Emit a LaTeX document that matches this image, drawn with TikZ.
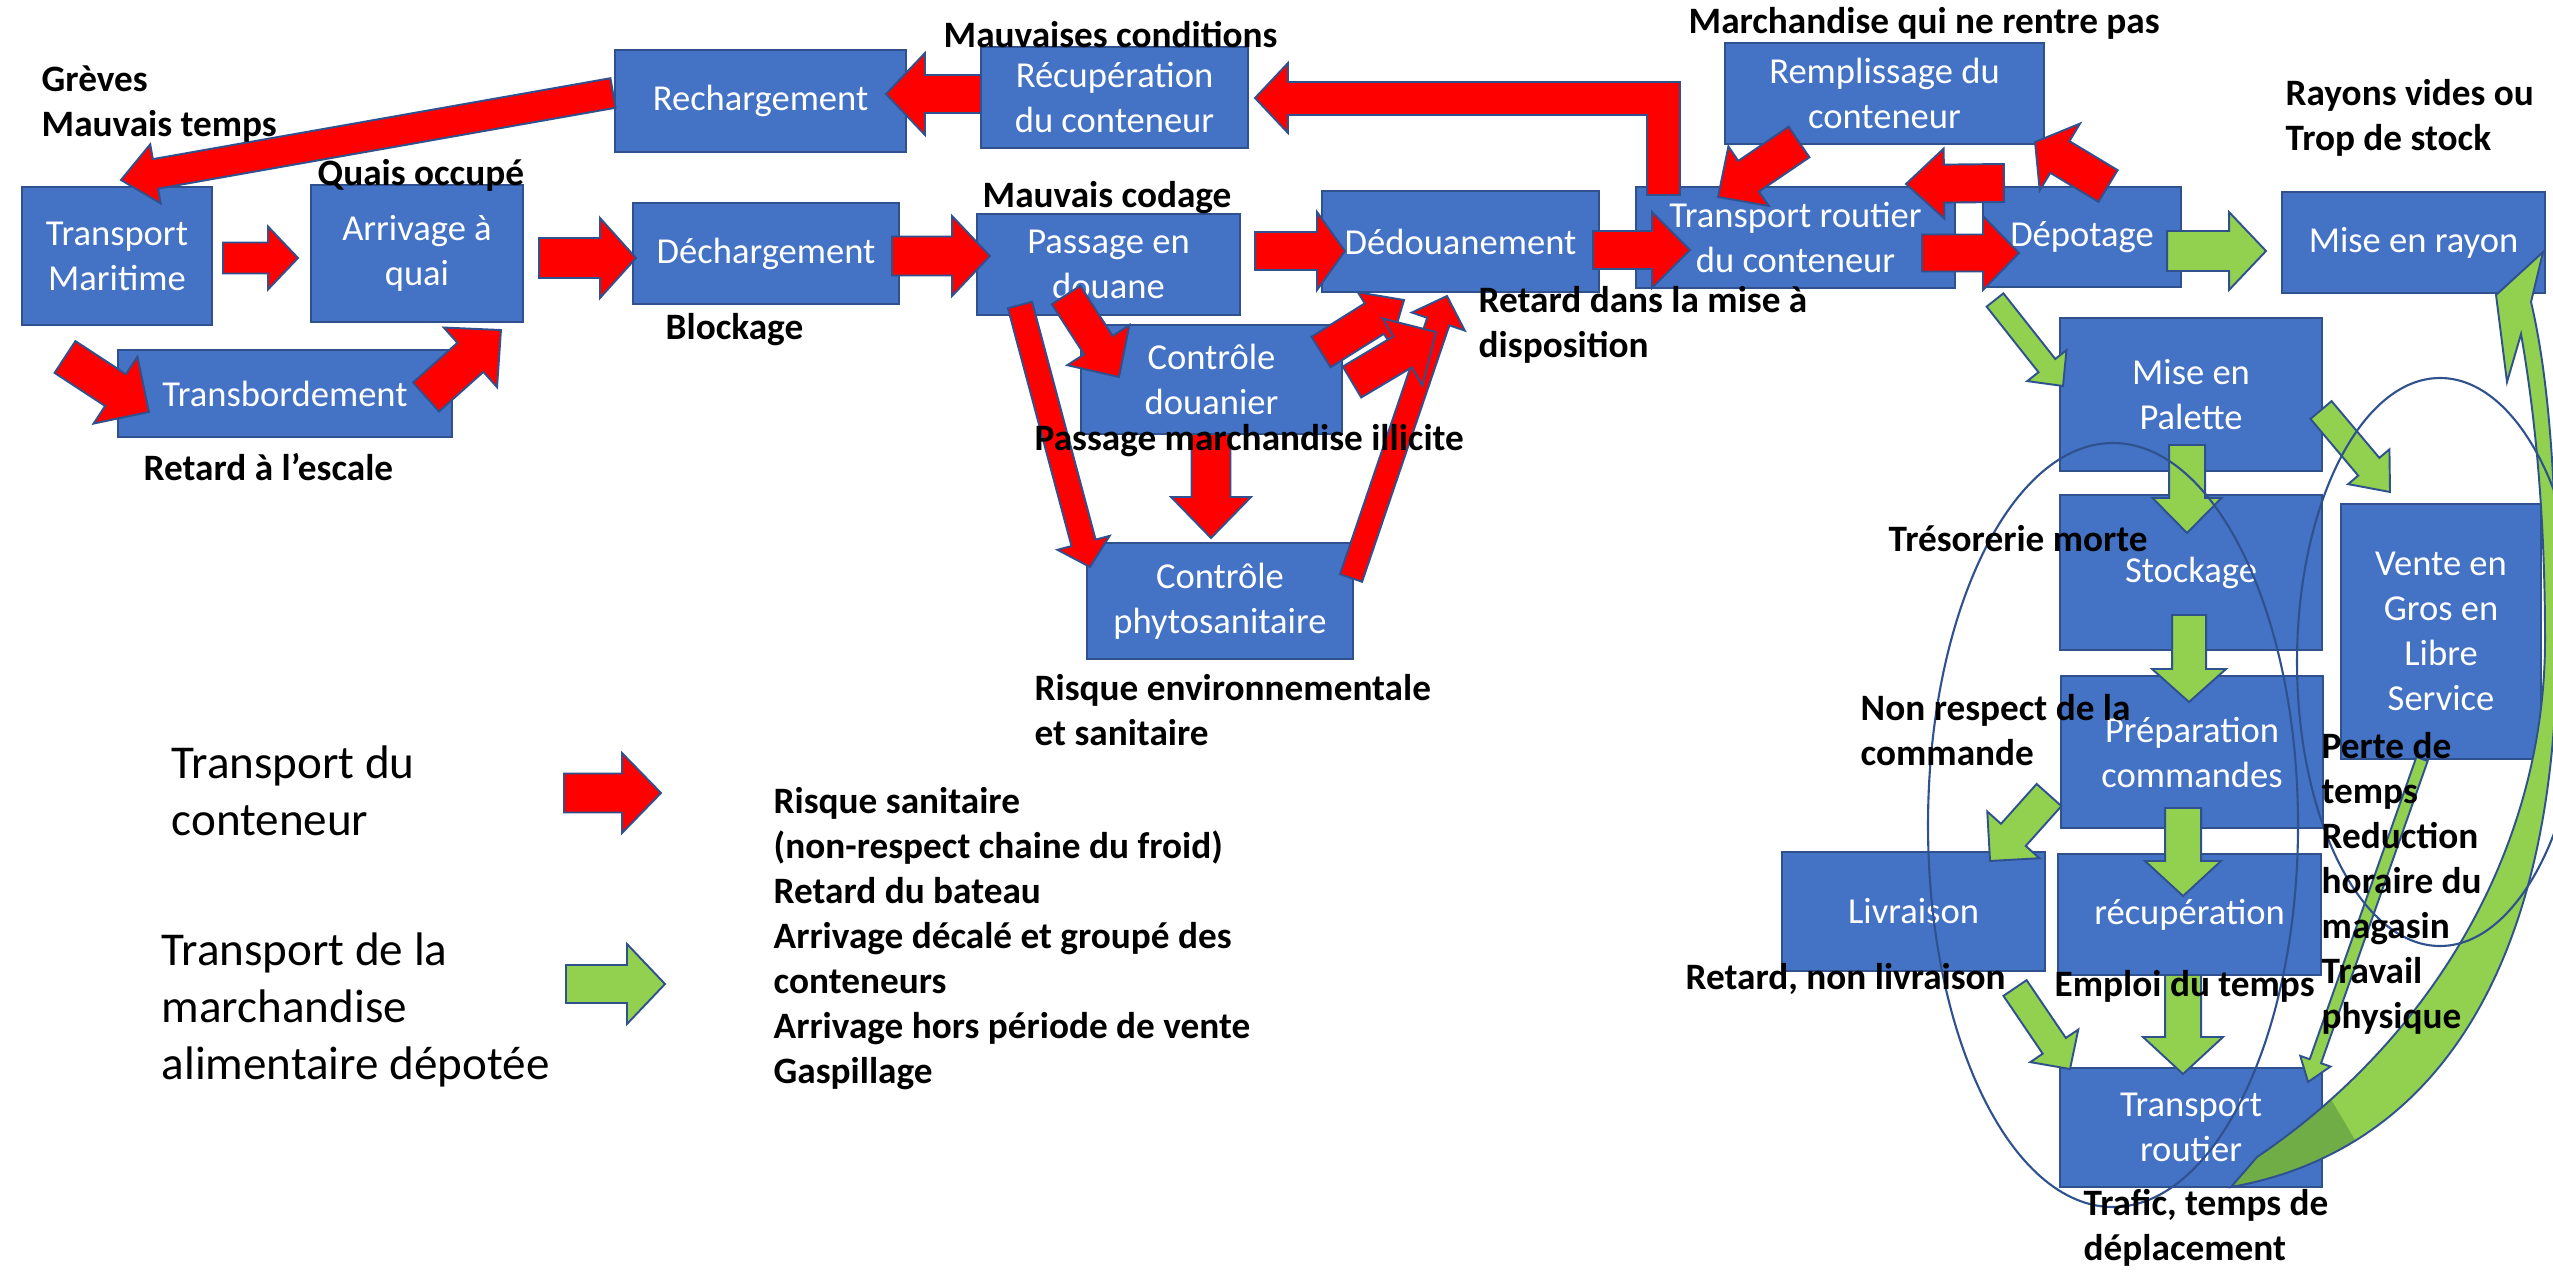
\documentclass[tikz,border=0pt]{standalone}
\usepackage{fontspec}
\setmainfont{Carlito}
\definecolor{boxblue}{HTML}{4472C4}
\definecolor{bord}{HTML}{2F528F}
\definecolor{rouge}{HTML}{FF0000}
\definecolor{vert}{HTML}{92D050}
\definecolor{vertf}{HTML}{70AD47}
\newcommand\boxfont{\fontsize{10.4pt}{12.8pt}\selectfont}
\newcommand\labfont{\bfseries\fontsize{10.6pt}{12.8pt}\selectfont}
\newcommand\legfont{\fontsize{13.4pt}{16.2pt}\selectfont}
\tikzset{
 box/.style={draw=bord, fill=boxblue, line width=0.8pt, text=white, font=\boxfont, align=center, inner sep=0pt},
 lab/.style={font=\labfont, align=left, anchor=west, inner sep=0pt, text=black},
 leg/.style={font=\legfont, align=left, anchor=west, inner sep=0pt, text=black},
 barrow/.style={draw=bord, line width=0.55pt, line join=miter},
 ring/.style={draw=bord, line width=0.6pt},
}
% box: name, x1, y1, x2, y2, text
\newcommand\boxn[6]{%
 \pgfmathsetmacro\bw{(#4-#2)*0.1}\pgfmathsetmacro\bh{(#5-#3)*0.1}%
 \node[box,minimum width=\bw mm,minimum height=\bh mm] (#1) at ({(#2+#4)/2},{(#3+#5)/2}) {#6};}
% block arrow: x1,y1,x2,y2, shaft half, head half, head length, colour
\newcommand\barr[8]{%
 \pgfmathsetmacro\bAng{atan2(-((#4)-(#2)),(#3)-(#1))}%
 \pgfmathsetmacro\bLen{veclen((#3)-(#1),(#4)-(#2))}%
 \pgfmathsetmacro\bBase{\bLen-(#7)}%
 \filldraw[barrow,fill=#8,shift={(#1,#2)},rotate=\bAng] (0,-#5) -- (\bBase,-#5) -- (\bBase,-#6) -- (\bLen,0) -- (\bBase,#6) -- (\bBase,#5) -- (0,#5) -- cycle;}
\newcommand\curvedpath{(2231,1187) .. controls (2440,1150) and (2557,960) .. (2557,640) .. controls (2557,470) and (2547,370) .. (2531,302) -- (2543,252) -- (2496,295) -- (2507,382) -- (2521,334) .. controls (2536,420) and (2545,520) .. (2545,640) .. controls (2545,850) and (2430,1040) .. (2257,1157) -- cycle}
\begin{document}
\begin{tikzpicture}[x=0.1mm,y=-0.1mm]
\useasboundingbox (0,0) rectangle (2553,1272);
\fill[white] (0,0) rectangle (2553,1272);
\clip (0,0) rectangle (2553,1272);
% boxes
\boxn{tm}{22}{187}{212}{325}{Transport\\Maritime}
\boxn{aq}{311}{185}{523}{322}{Arrivage à\\quai}
\boxn{tb}{118}{350}{452}{437}{Transbordement}
\boxn{rch}{615}{50}{906}{152}{Rechargement}
\boxn{dch}{633}{203}{899}{304}{Déchargement}
\boxn{rec}{981}{47}{1248}{148}{Récupération\\du conteneur}
\boxn{pd}{977}{214}{1240}{315}{Passage en\\douane}
\boxn{ded}{1322}{191}{1599}{292}{Dédouanement}
\boxn{trc}{1636}{187}{1955}{288}{Transport routier\\du conteneur}
\boxn{rem}{1725}{43}{2044}{144}{Remplissage du\\conteneur}
\boxn{dep}{1983}{187}{2181}{287}{Dépotage}
\boxn{mer}{2282}{192}{2545}{293}{Mise en rayon}
\boxn{cd}{1081}{325}{1342}{434}{Contrôle\\douanier}
\boxn{cp}{1087}{543}{1353}{659}{Contrôle\\phytosanitaire}
\boxn{mep}{2060}{318}{2322}{471}{Mise en\\Palette}
\boxn{sto}{2060}{495}{2322}{650}{Stockage}
\boxn{vgl}{2341}{504}{2541}{759}{Vente en\\Gros en\\Libre\\Service}
\boxn{pc}{2061}{676}{2323}{828}{Préparation\\commandes}
\boxn{liv}{1782}{852}{2045}{971}{Livraison}
\boxn{recu}{2058}{854}{2321}{975}{récupération}
\boxn{tr}{2060}{1068}{2322}{1187}{Transport\\routier}
% bent red arrow: transport routier -> recuperation
\filldraw[barrow,fill=rouge] (1647,195) -- (1647,115) -- (1288,115) -- (1288,133) -- (1255,98) -- (1288,63) -- (1288,82) -- (1680,82) -- (1680,195) -- cycle;
% red block arrows
\barr{613}{93}{121}{180}{15}{30}{35}{rouge}
\barr{981}{94}{886}{94}{19}{41}{39}{rouge}
\barr{223}{258}{298}{258}{15.5}{31.5}{30}{rouge}
\barr{539}{258}{636}{258}{20}{40}{36}{rouge}
\barr{892}{256}{990}{256}{19.5}{40}{38}{rouge}
\barr{65}{357}{149}{412}{19}{40}{40}{rouge}
\barr{426}{397}{501}{330}{19.5}{40}{41}{rouge}
\barr{1255}{251}{1345}{251}{19}{39}{28}{rouge}
\barr{1593}{250}{1690}{250}{19}{38}{38}{rouge}
\barr{1922}{253}{2019}{253}{18.5}{37}{36}{rouge}
\barr{2108}{186}{2035}{142}{18.5}{39}{29}{rouge}
\barr{2004}{183}{1906}{184}{19}{35}{38}{rouge}
\barr{1799}{142}{1718}{197}{18.5}{36}{37}{rouge}
\barr{1066}{295}{1119}{377}{17}{37}{38}{rouge}
\barr{1020}{305}{1090}{567}{12.5}{27}{25}{rouge}
\barr{1211}{434}{1211}{538}{19.5}{40}{41}{rouge}
\barr{1351}{578}{1447}{296}{11.7}{28}{27}{rouge}
\barr{1321}{352}{1404}{300}{18}{31}{35}{rouge}
\barr{1352}{382}{1436}{332}{18}{39}{39}{rouge}
% green block arrows
\barr{2167}{251}{2266}{251}{20}{39}{37}{vert}
\barr{1995}{300}{2063}{386}{10.7}{25}{26}{vert}
\barr{2321}{410}{2390}{492}{13.8}{27}{33}{vert}
\barr{2187}{445}{2187}{533}{18}{34.5}{35}{vert}
\barr{2189}{615}{2189}{702}{17}{37}{33}{vert}
\barr{2183}{808}{2183}{896}{18}{38}{35}{vert}
\barr{2049}{795}{1990}{861}{16.6}{35}{35}{vert}
\barr{2015}{988}{2070}{1069}{14}{29}{28}{vert}
\barr{2183}{975}{2183}{1074}{18}{40}{37}{vert}
\barr{2422}{759}{2308}{1082}{6}{16}{22}{vert}
% curved green arrow to Mise en rayon
\fill[vert] \curvedpath;
\begin{scope}
\clip (2150,1250) -- (2150,1000) -- (2290,1030) -- (2420,1250) -- cycle;
\fill[vertf] \curvedpath;
\end{scope}
\draw[barrow] \curvedpath;
% legend arrows
\barr{564}{793}{661}{793}{19.5}{40}{39}{rouge}
\barr{566}{984}{665}{984}{19}{40}{38}{vert}
% ellipses
\draw[ring] (2113,825) ellipse [x radius=185, y radius=382];
\draw[ring] (2440,662) ellipse [x radius=143, y radius=284];
% labels
\node[lab] (l1) at (41,104) {Grèves\\Mauvais temps};
\node[lab] (l2) at (317,175) {Quais occupé};
\node[lab] (l3) at (665,330) {Blockage};
\node[lab] (l4) at (143,467) {Retard à l’escale};
\node[lab] (l5) at (943,35) {Mauvaises conditions};
\node[lab] (l6) at (982,198) {Mauvais codage};
\node[lab] (l7) at (1478,325) {Retard dans la mise à\\disposition};
\node[lab] (l8) at (1034,441) {Passage marchandise illicite};
\node[lab] (l9) at (1034,710) {Risque environnementale\\et sanitaire};
\node[lab] (l10) at (1688,23) {Marchandise qui ne rentre pas};
\node[lab] (l11) at (2285,118) {Rayons vides ou\\Trop de stock};
\node[lab] (l12) at (1888,539) {Trésorerie morte};
\node[lab] (l13) at (1860,730) {Non respect de la\\commande};
\node[lab] (l14) at (2321,883) {Perte de\\temps\\Reduction\\horaire du\\magasin\\Travail\\physique};
\node[lab] (l15) at (1685,979) {Retard, non livraison};
\node[lab] (l16) at (2054,986) {Emploi du temps};
\node[lab] (l17) at (2083,1228) {Trafic, temps de\\déplacement};
\node[lab] (l18) at (773,939) {Risque sanitaire\\(non-respect chaine du froid)\\Retard du bateau\\Arrivage décalé et groupé des\\conteneurs\\Arrivage hors période de vente\\Gaspillage};
\node[leg] (g1) at (171,791) {Transport du\\conteneur};
\node[leg] (g2) at (161,1010) {Transport de la\\marchandise\\alimentaire dépotée};
\end{tikzpicture}
\end{document}
